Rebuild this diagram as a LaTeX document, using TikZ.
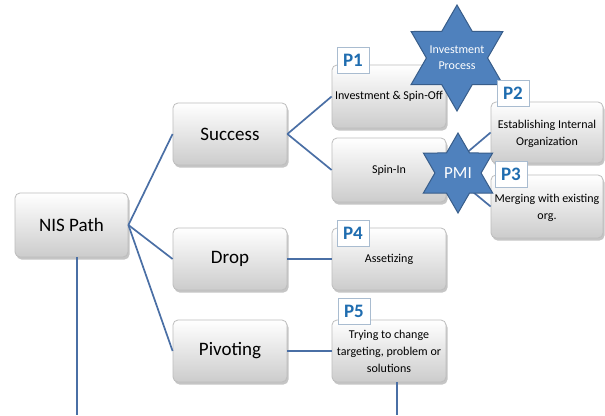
\documentclass[tikz,border=0pt]{standalone}
\usepackage{fontspec}
\setmainfont{Carlito}
\usetikzlibrary{shapes.geometric,shadows}
\definecolor{linkblue}{HTML}{4A6FA5}
\definecolor{starfill}{HTML}{4F81BD}
\definecolor{stardraw}{HTML}{385D8A}
\definecolor{tagblue}{HTML}{1F6DB0}
\definecolor{tagedge}{HTML}{A9BCD0}
\definecolor{boxedge}{HTML}{BDBDBD}
\begin{document}
\begin{tikzpicture}[x=1pt,y=-1pt,
  card/.style={rectangle, rounded corners=5pt, draw=boxedge, line width=0.8pt,
    top color=white, bottom color=black!20,
    drop shadow={shadow xshift=1.5pt, shadow yshift=-2.5pt, opacity=0.45},
    minimum width=114pt, minimum height=63pt, inner sep=2pt, align=center},
  bigcard/.style={card, font=\fontsize{19}{22}\selectfont},
  smallcard/.style={card, font=\fontsize{12}{17}\selectfont},
  link/.style={draw=linkblue, line width=1.7pt},
  hexstar/.style={star, star points=6, star point ratio=1.732,
    fill=starfill, draw=stardraw, line width=1pt, inner sep=0pt},
  startext/.style={text=white, align=center, inner sep=0pt},
  tag/.style={rectangle, fill=white, draw=tagedge, line width=0.6pt,
    text=tagblue, font=\bfseries\fontsize{19}{19}\selectfont,
    minimum width=32pt, minimum height=26pt, inner sep=0pt}
]
\useasboundingbox (0,0) rectangle (605,415);
\fill[white] (0,0) rectangle (605,415);

% first level
\node[bigcard, minimum width=113pt, minimum height=64pt] (nis) at (71.5,225) {NIS Path};
% second level
\node[bigcard, minimum height=62pt] (success) at (230,134) {Success};
\node[bigcard, minimum height=62pt] (drop) at (230,259) {Drop};
\node[bigcard, minimum height=62pt] (pivoting) at (230,351) {Pivoting};
% third level
\node[smallcard] (inv) at (389,96.5) {Investment \& Spin-Off};
\node[smallcard, minimum height=64pt] (spinin) at (389,170) {Spin-In};
\node[smallcard, minimum height=62pt] (asset) at (389,259) {Assetizing};
\node[smallcard, minimum height=62pt] (trying) at (389,351) {Trying to change\\targeting, problem or\\solutions};
% fourth level
\node[smallcard, minimum width=112pt, minimum height=61pt, text depth=-3pt] (estab) at (547,132.5) {Establishing Internal\\Organization};
\node[smallcard, minimum width=112pt, text depth=-3pt] (merge) at (547,206.5) {Merging with existing\\org.};

% connectors
\coordinate (nisfoot) at (77,415);
\coordinate (tryfoot) at (397,415);
\draw[link] (nis.east) -- (success.west);
\draw[link] (nis.east) -- (drop.west);
\draw[link] (nis.east) -- (pivoting.west);
\draw[link] (success.east) -- (inv.west);
\draw[link] (success.east) -- (spinin.west);
\draw[link] (drop.east) -- (asset.west);
\draw[link] (pivoting.east) -- (trying.west);
\draw[link] (spinin.east) -- (estab.west);
\draw[link] (spinin.east) -- (merge.west);
\draw[link] (nis.south -| nisfoot) -- (nisfoot);
\draw[link] (trying.south -| tryfoot) -- (tryfoot);

% process stars
\node[hexstar, minimum size=106pt] (ipstar) at (457,58) {};
\node[startext, font=\fontsize{12}{16}\selectfont] (iptext) at (ipstar.center) {Investment\\Process};
\node[hexstar, minimum size=80pt] (pmistar) at (458,173) {};
\node[startext, font=\fontsize{17}{17}\selectfont] (pmitext) at (pmistar.center) {PMI};

% phase tags
\node[tag] (p1) at (353,60) {P1};
\node[tag] (p2) at (513,93) {P2};
\node[tag] (p3) at (511,174) {P3};
\node[tag] (p4) at (353,233) {P4};
\node[tag] (p5) at (354,311) {P5};
\end{tikzpicture}
\end{document}
